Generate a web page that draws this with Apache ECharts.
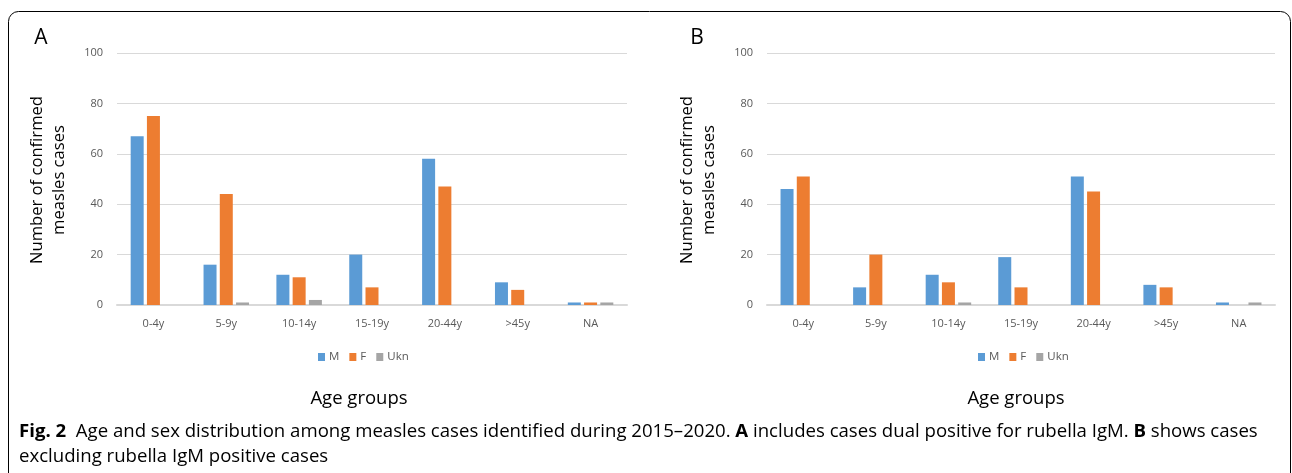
<!DOCTYPE html>
<html><head><meta charset="utf-8">
<script src="https://cdn.jsdelivr.net/npm/echarts@6/dist/echarts.min.js"></script>
<style>html,body{margin:0;padding:0;background:#fff;}#c{width:1292px;height:473px;}</style>
</head><body><div id="c"></div>
<script>
const categories = ['0-4y','5-9y','10-14y','15-19y','20-44y','>45y','NA'];
const yTicks = [0,20,40,60,80,100];
const seriesNames = ['M','F','Ukn'];
const colors = ['#5B9BD5','#ED7D31','#A5A5A5'];
// Panel A
const aM = [67,16,12,20,58,9,1];
const aF = [75,44,11,7,47,6,1];
const aU = [0,1,2,0,0,0,1];
// Panel B
const bM = [46,7,12,19,51,8,1];
const bF = [51,20,9,7,45,7,0];
const bU = [0,0,1,0,0,0,1];

const FONT = '"Open Sans", "Noto Sans", sans-serif';
const chart = echarts.init(document.getElementById('c'), null, {renderer:'canvas'});

function xAx(i){return {type:'category',gridIndex:i,data:categories,
  axisLine:{lineStyle:{color:'#d9d9d9',width:2}},axisTick:{show:false},
  axisLabel:{color:'#595959',fontSize:11,fontFamily:FONT,margin:13}};}
function yAx(i){return {type:'value',gridIndex:i,min:yTicks[0],max:yTicks[yTicks.length-1],interval:20,
  axisLine:{show:false},axisTick:{show:false},
  splitLine:{lineStyle:{color:'#d9d9d9',width:1}},
  axisLabel:{color:'#595959',fontSize:11,fontFamily:FONT,margin:14}};}
function bars(i,data){return data.map((d,k)=>({name:seriesNames[k],type:'bar',xAxisIndex:i,yAxisIndex:i,
  data:d.map(v=>v===0?'-':v),
  barWidth:13,barGap:'25%',itemStyle:{color:colors[k]},silent:true}));}
function legend(left){return {left:left,top:346,itemWidth:7,itemHeight:8,itemGap:10,icon:'rect',
  data:seriesNames,textStyle:{color:'#595959',fontSize:11.5,fontFamily:FONT,padding:[0,0,0,-1]}};}
function yTitle(x){return {type:'text',x:x,y:180,rotation:Math.PI/2,
  style:{text:'Number of confirmed\nmeasles cases',fill:'#000',font:'16.6px '+FONT,align:'center',verticalAlign:'middle',lineHeight:22}};}
const CAP = '18.6px '+FONT, CAPB = 'bold 18.6px '+FONT;

chart.setOption({
  animation:false,
  color:colors,
  grid:[{left:117,right:665,top:53,bottom:168},{left:767,right:17,top:53,bottom:168}],
  xAxis:[xAx(0),xAx(1)],
  yAxis:[yAx(0),yAx(1)],
  legend:[legend(313),legend(973)],
  series:[...bars(0,[aM,aF,aU]),...bars(1,[bM,bF,bU])],
  graphic:[
    {type:'rect',shape:{x:8.5,y:11.5,width:1282,height:490,r:10},style:{fill:'none',stroke:'#000',lineWidth:1}},
    {type:'text',x:41,y:38,style:{text:'A',fill:'#000',font:'21px '+FONT,align:'center',verticalAlign:'middle'}},
    {type:'text',x:697,y:38,style:{text:'B',fill:'#000',font:'21px '+FONT,align:'center',verticalAlign:'middle'}},
    yTitle(48), yTitle(698),
    {type:'text',x:359,y:399,style:{text:'Age groups',fill:'#000',font:'18.5px '+FONT,align:'center',verticalAlign:'middle'}},
    {type:'text',x:1016,y:399,style:{text:'Age groups',fill:'#000',font:'18.5px '+FONT,align:'center',verticalAlign:'middle'}},
    {type:'text',x:19,y:432,style:{
      text:'{b|Fig. 2}{n|  Age and sex distribution among measles cases identified during 2015–2020. }{b|A}{n| includes cases dual positive for rubella IgM. }{b|B}{n| shows cases}',
      verticalAlign:'middle',
      rich:{b:{font:CAPB,fill:'#000'},n:{font:CAP,fill:'#000'}}}},
    {type:'text',x:19,y:457,style:{text:'excluding rubella IgM positive cases',fill:'#000',font:CAP,verticalAlign:'middle'}}
  ]
});
</script></body></html>
